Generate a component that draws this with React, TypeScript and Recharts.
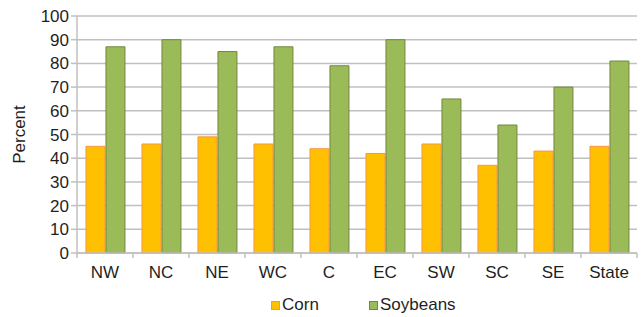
import { Bar, BarChart, CartesianGrid, Legend, XAxis, YAxis } from "recharts"

const regions = ['NW', 'NC', 'NE', 'WC', 'C', 'EC', 'SW', 'SC', 'SE', 'State']
const corn = [45, 46, 49, 46, 44, 42, 46, 37, 43, 45]
const soybeans = [87, 90, 85, 87, 79, 90, 65, 54, 70, 81]
const yTicks = [0, 10, 20, 30, 40, 50, 60, 70, 80, 90, 100]

const data = regions.map((r, i) => ({ region: r, corn: corn[i], soybeans: soybeans[i] }))

const font = '"Liberation Sans", Arial, sans-serif'
const gridColor = '#c0c0c0'
const textColor = '#1f1f1f'

function XTick(props: any) {
    const { x, y, payload, index } = props
    const half = 28
    return (
        <g>
            <line x1={x - half} y1={y - 8} x2={x - half} y2={y - 3} stroke={gridColor} strokeWidth={1.5} />
            {index === regions.length - 1 &&
                <line x1={x + half} y1={y - 8} x2={x + half} y2={y - 3} stroke={gridColor} strokeWidth={1.5} />}
            <text x={x} y={y + 17} textAnchor="middle" fontSize={17} fill={textColor} fontFamily={font}>{payload.value}</text>
        </g>
    )
}

function LegendBox() {
    const item = (color: string, border: string, label: string, w: number) => (
        <div style={{ display: 'flex', alignItems: 'center', width: w }}>
            <span style={{ width: 7, height: 7, background: color, border: `1px solid ${border}`, marginRight: 2 }} />
            <span>{label}</span>
        </div>
    )
    return (
        <div style={{ display: 'flex', justifyContent: 'flex-start', fontFamily: font, fontSize: 17, color: textColor, paddingLeft: 271, paddingTop: 8 }}>
            {item('#ffc000', '#f79646', 'Corn', 98)}
            {item('#9bbb59', '#71893f', 'Soybeans', 90)}
        </div>
    )
}

export default function App() {
    return (
        <div style={{ position: 'absolute', left: 0, top: 0, background: '#fff' }}>
            <BarChart width={642} height={317} data={data}
                margin={{ top: 16, right: 5, left: 0, bottom: 0 }}
                barCategoryGap="16%" barGap={1}>
                <CartesianGrid vertical={false} stroke={gridColor} strokeWidth={1.5} />
                <XAxis dataKey="region" height={34} stroke={gridColor} strokeWidth={1.5}
                    tickLine={false} tick={<XTick />} interval={0} />
                <YAxis width={77} domain={[0, 100]} ticks={yTicks} interval={0}
                    stroke={gridColor} strokeWidth={1.5} tickSize={6}
                    tick={{ fontSize: 17, fill: textColor, fontFamily: font }}
                    label={{ value: 'Percent', angle: -90, position: 'insideLeft', offset: 19,
                        style: { fontSize: 17, fill: textColor, fontFamily: font, textAnchor: 'middle' } }} />
                <Legend verticalAlign="bottom" height={30} content={<LegendBox />} />
                <Bar dataKey="corn" name="Corn" fill="#ffc000" stroke="#f79646" strokeWidth={1} isAnimationActive={false} />
                <Bar dataKey="soybeans" name="Soybeans" fill="#9bbb59" stroke="#71893f" strokeWidth={1} isAnimationActive={false} />
            </BarChart>
        </div>
    )
}
